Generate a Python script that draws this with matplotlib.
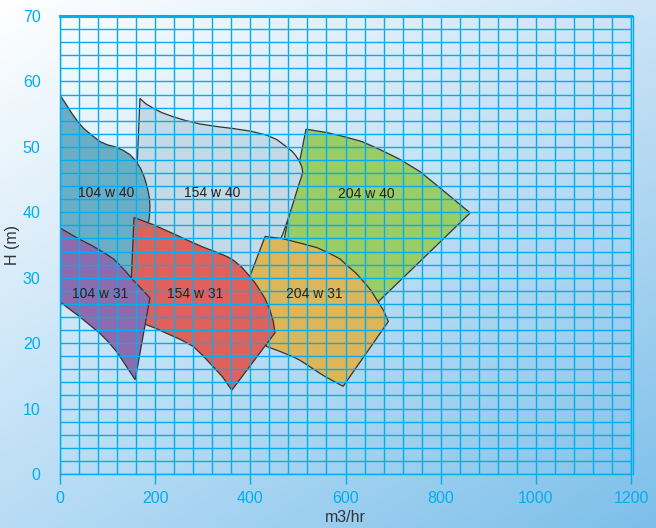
import numpy as np
import matplotlib
matplotlib.use("Agg")
import matplotlib.pyplot as plt
from matplotlib.patches import Polygon

# ---- data (flow m3/hr, head m) ----
x_104w40 = [0, 12, 25, 38, 50, 63, 84, 100, 116, 132, 147, 160, 170, 178, 184, 188, 189, 188, 180, 155, 0]
y_104w40 = [57.9, 56.6, 55.1, 53.8, 52.8, 52.0, 50.8, 50.3, 50.0, 49.5, 48.8, 47.8, 46.6, 45.2, 43.6, 42.2, 41.0, 39.3, 36.0, 30.0, 30.0]

x_154w40 = [168, 180, 196, 215, 238, 265, 294, 330, 364, 400, 434, 456, 476, 488, 496, 503, 508, 510, 507, 504, 483, 469, 440, 400, 152]
y_154w40 = [57.4, 56.6, 55.9, 55.2, 54.6, 54.0, 53.5, 53.1, 52.8, 52.4, 51.8, 51.1, 50.0, 49.3, 48.6, 47.8, 47.0, 46.2, 45.3, 44.7, 39.8, 36.8, 32.0, 30.0, 30.0]

x_204w40 = [517, 560, 595, 635, 672, 714, 757, 799, 862, 650, 466]
y_204w40 = [52.7, 52.2, 51.6, 50.8, 49.6, 48.1, 46.2, 43.7, 39.9, 25.0, 34.0]

x_104w31 = [0, 38, 70, 95, 112, 126, 140, 154, 170, 189, 158, 140, 119, 100, 84, 62, 42, 20, 0]
y_104w31 = [37.6, 36.0, 34.8, 33.7, 32.9, 31.9, 30.8, 29.6, 28.4, 26.9, 14.4, 16.4, 18.7, 20.3, 21.5, 22.8, 24.0, 25.2, 26.3]

x_154w31 = [155.5, 196, 230, 266, 300, 336, 352, 364, 382, 399, 410, 420, 431, 441, 448, 452, 361, 342, 322, 300, 280, 252, 224, 200, 182, 165, 150]
y_154w31 = [39.2, 38.1, 37.0, 35.8, 34.7, 33.7, 33.2, 32.7, 31.6, 30.2, 29.2, 28.1, 26.8, 25.1, 23.4, 21.6, 12.8, 14.8, 16.4, 18.1, 19.5, 20.6, 21.5, 22.3, 22.8, 23.6, 30.0]

x_204w31 = [431, 466, 504, 540, 567, 588, 603, 622, 638, 653, 666, 680, 690, 595, 557, 546, 504, 490, 460, 434, 410, 399]
y_204w31 = [36.3, 36.0, 35.3, 34.6, 33.7, 32.9, 31.9, 30.7, 29.4, 28.1, 26.6, 25.0, 23.3, 13.4, 14.9, 15.4, 17.4, 17.9, 18.8, 19.5, 25.0, 30.2]

# drawing order: back to front
regions = [
    ("204 w 40", x_204w40, y_204w40, "#9acd66", (644, 42.8)),
    ("154 w 40", x_154w40, y_154w40, "#c3d9e6", (319, 42.9)),
    ("104 w 40", x_104w40, y_104w40, "#6aaec5", (97, 42.9)),
    ("204 w 31", x_204w31, y_204w31, "#deb65a", (535, 27.5)),
    ("154 w 31", x_154w31, y_154w31, "#e0605b", (284, 27.5)),
    ("104 w 31", x_104w31, y_104w31, "#8c6bae", (84, 27.5)),
]

x_ticks = [0, 200, 400, 600, 800, 1000, 1200]
y_ticks = [0, 10, 20, 30, 40, 50, 60, 70]

W, H = 656, 528
fig = plt.figure(figsize=(W / 100, H / 100), dpi=100)

# background gradient
bg = fig.add_axes([0, 0, 1, 1], zorder=-10)
tl = np.array([255, 255, 255]) / 255
tr = np.array([0xcc, 0xe4, 0xf6]) / 255
bl = np.array([0xb8, 0xdc, 0xf5]) / 255
br = np.array([0x7c, 0xbf, 0xea]) / 255
u = np.linspace(0, 1, 200)[None, :, None]
v = np.linspace(0, 1, 200)[:, None, None]
img = (1 - v) * ((1 - u) * tl + u * tr) + v * ((1 - u) * bl + u * br)
bg.imshow(img, aspect="auto", extent=[0, 1, 0, 1], origin="upper")
bg.axis("off")

ax = fig.add_axes([60 / W, 54 / H, 571 / W, 458 / H])
ax.patch.set_alpha(0)
ax.set_xlim(0, 1200)
ax.set_ylim(0, 70)

grid_c = "#00aeef"
for name, xs, ys, col, (tx, ty) in regions:
    poly = Polygon(np.column_stack([xs, ys]), closed=True, facecolor=col,
                   edgecolor="#333333", linewidth=0.9, zorder=1)
    ax.add_patch(poly)
    ax.text(tx, ty, name, ha="center", va="center", fontsize=10,
            color="#222222", family="Liberation Sans", zorder=5)

ax.set_xticks(x_ticks)
ax.set_yticks(y_ticks)
ax.set_xticks(np.arange(0, 1201, 40), minor=True)
ax.set_yticks(np.arange(0, 71, 2), minor=True)
ax.grid(True, which="both", color=grid_c, linewidth=1.0)
ax.set_axisbelow(False)

ax.tick_params(axis="x", which="major", length=7, width=1.0, color=grid_c,
               labelcolor=grid_c, labelsize=11.5, pad=5)
ax.tick_params(axis="y", which="major", length=0, labelcolor=grid_c,
               labelsize=11.5, pad=14)
ax.tick_params(which="minor", length=0)
for lab in ax.get_xticklabels() + ax.get_yticklabels():
    lab.set_family("Liberation Sans")

for s in ["left", "bottom"]:
    ax.spines[s].set_color(grid_c)
    ax.spines[s].set_linewidth(1.0)
ax.spines["top"].set_color(grid_c)
ax.spines["top"].set_linewidth(2.2)
ax.spines["right"].set_color(grid_c)
ax.spines["right"].set_linewidth(1.0)
ax.axvline(1203.5, color=grid_c, linewidth=1.0, clip_on=False, zorder=3)

ax.set_xlabel("m3/hr", fontsize=11.5, color="#333333", family="Liberation Sans", labelpad=3)
ax.set_ylabel("H (m)", fontsize=11.5, color="#333333", family="Liberation Sans", labelpad=2)

fig.savefig("out.png", dpi=100)
